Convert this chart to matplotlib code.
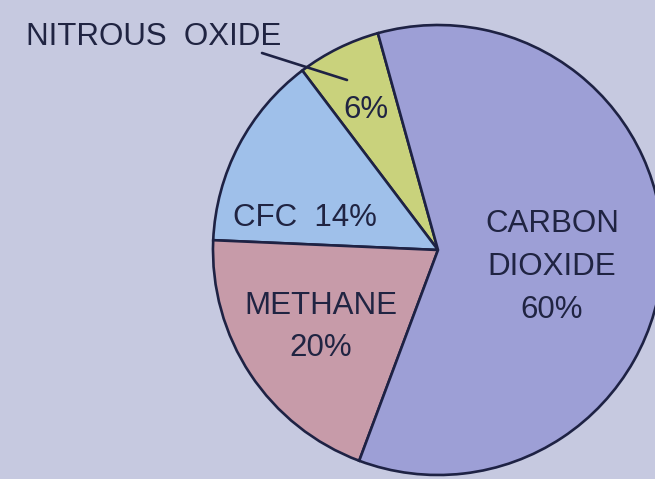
import matplotlib
matplotlib.use("Agg")
import matplotlib.pyplot as plt

# Shares of greenhouse gases (percent), drawn counter-clockwise from the top
gases = ["NITROUS OXIDE", "CFC", "METHANE", "CARBON DIOXIDE"]
shares = [6, 14, 20, 60]
colors = ["#c9d27c", "#9fc0ea", "#c79ba9", "#9d9fd6"]

W, H = 655, 479
fig = plt.figure(figsize=(W / 100, H / 100), dpi=100)
bg = "#c6c9e0"
fig.patch.set_facecolor(bg)
ax = fig.add_axes([0, 0, 1, 1])
ax.set_facecolor(bg)

edge = "#1e2244"
ax.pie(shares, colors=colors, startangle=105.5, counterclock=True,
       center=(438, H - 250), radius=225, frame=True,
       wedgeprops=dict(edgecolor=edge, linewidth=1.9))

ax.set_xlim(0, W)
ax.set_ylim(0, H)
ax.set_aspect("equal")
ax.axis("off")

txt = "#202442"
font = dict(family=["Liberation Sans", "DejaVu Sans"], color=txt,
            ha="center", va="center", fontsize=22.5, linespacing=1.55)

def y(v):
    return H - v

ax.text(154, y(37), "NITROUS  OXIDE", **font)
ax.plot([262, 347], [y(53), y(80)], color=edge, lw=1.9, solid_capstyle="round")
ax.text(366, y(110), f"{shares[0]}%", **font)
ax.text(305, y(218), f"CFC  {shares[1]}%", **font)
ax.text(321, y(327), f"METHANE\n{shares[2]}%", **font)
ax.text(552, y(267), f"CARBON\nDIOXIDE\n{shares[3]}%", **font)

fig.savefig("out.png", dpi=100, facecolor=bg)
